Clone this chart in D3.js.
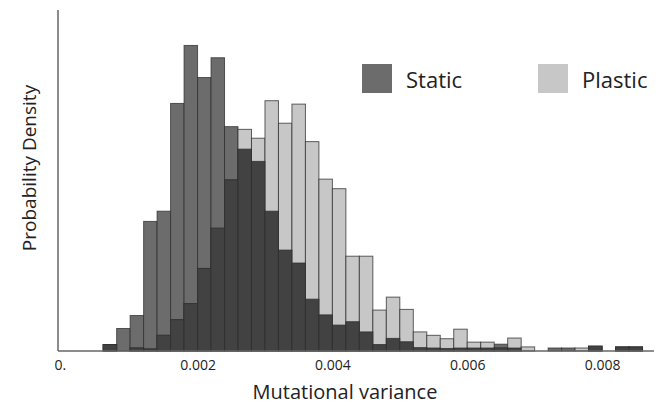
<!DOCTYPE html>
<html>
<head>
<meta charset="utf-8">
<script src="https://cdn.jsdelivr.net/npm/d3@7"></script>
<style>
  body { margin: 0; background: #fff; }
  text { font-family: "Open Sans", sans-serif; fill: #222; }
</style>
</head>
<body>
<svg class="hist" width="664" height="406"></svg>
<script>
// bin left edges (width 0.0002)
var binStarts = [0.0006, 0.0008, 0.0010, 0.0012, 0.0014, 0.0016, 0.0018, 0.0020, 0.0022, 0.0024,
                 0.0026, 0.0028, 0.0030, 0.0032, 0.0034, 0.0036, 0.0038, 0.0040, 0.0042, 0.0044,
                 0.0046, 0.0048, 0.0050, 0.0052, 0.0054, 0.0056, 0.0058, 0.0060, 0.0062, 0.0064,
                 0.0066, 0.0068, 0.0070, 0.0072, 0.0074, 0.0076, 0.0078, 0.0080, 0.0082, 0.0084];
var staticVals = [9.5, 33, 52, 190, 205, 363, 448, 401, 430, 329,
                  296, 278, 205, 148, 129, 76, 53, 38, 43, 28,
                  9.5, 18.5, 13.6, 5, 4.4, 3.7, 4.4, 4.4, 4.4, 10,
                  4.4, 0, 0, 4.4, 4.4, 0, 7, 0, 5.9, 5.9];
var plasticVals = [9.5, 0, 4.5, 3, 23, 46, 69.5, 121, 180, 251,
                   325, 312, 367, 334, 362, 307, 252, 238, 139, 139,
                   60, 79, 61, 28, 23, 18, 32, 13, 13, 4.4,
                   19, 6, 0, 0, 0, 4.4, 7, 0, 5.9, 5.9];
var binWidth = 0.0002;
var xTicks = [0, 0.002, 0.004, 0.006, 0.008];
var seriesNames = ["Static", "Plastic"];

var colStatic = "#6c6c6c", colPlastic = "#c7c7c7", colBoth = "#424242";

var svg = d3.select('.hist');
var x = d3.scaleLinear().domain([-0.00007, 0.0088]).range([58, 656]);
var y = d3.scaleLinear().domain([0, 500]).range([351, 10]);

var bins = binStarts.map(function(b, i){
  return {x0: b, x1: b + binWidth, s: staticVals[i], p: plasticVals[i]};
});

function drawBars(cls, val, color){
  svg.append('g').attr('class', cls)
    .selectAll('rect')
    .data(bins.filter(function(d){ return val(d) > 0; }))
    .enter().append('rect')
    .attr('x', function(d){ return x(d.x0); })
    .attr('width', function(d){ return x(d.x1) - x(d.x0); })
    .attr('y', function(d){ return y(val(d)); })
    .attr('height', function(d){ return y(0) - y(val(d)); })
    .attr('fill', color)
    .attr('stroke', '#2e2e2e')
    .attr('stroke-opacity', 0.75)
    .attr('stroke-width', 1);
}
drawBars('static', function(d){ return d.s; }, colStatic);
drawBars('plastic', function(d){ return d.p; }, colPlastic);
drawBars('overlap', function(d){ return Math.min(d.s, d.p); }, colBoth);

// axes
svg.append('line')
  .attr('x1', 58).attr('x2', 58).attr('y1', 10).attr('y2', y(0))
  .attr('stroke', '#666').attr('stroke-width', 1.5);

var xAxis = d3.axisBottom(x)
  .tickValues(xTicks)
  .tickSize(0)
  .tickPadding(9)
  .tickFormat(function(d){ return d === 0 ? "0." : d3.format(".3f")(d); });
var gx = svg.append('g').attr('transform', 'translate(0,' + y(0) + ')').call(xAxis);
gx.select('.domain').attr('stroke', '#666').attr('stroke-width', 1.5)
  .attr('d', 'M58,0H654');
gx.selectAll('.tick text')
  .style('font-family', '"Open Sans", sans-serif')
  .style('font-size', '14px')
  .attr('fill', '#333')
  .attr('dx', function(d){ return d === 0 ? -3 : 0; });

svg.append('text')
  .attr('x', 345).attr('y', 399)
  .attr('text-anchor', 'middle')
  .style('font-size', '20px')
  .text('Mutational variance');

svg.append('text')
  .attr('transform', 'translate(36,168) rotate(-90)')
  .attr('text-anchor', 'middle')
  .style('font-size', '19px')
  .text('Probability Density');

// legend
var legend = svg.append('g').selectAll('g')
  .data(seriesNames)
  .enter().append('g')
  .attr('transform', function(d, i){ return 'translate(' + (362 + i*176) + ',64)'; });
legend.append('rect')
  .attr('width', 30).attr('height', 29)
  .attr('fill', function(d, i){ return i === 0 ? colStatic : colPlastic; });
legend.append('text')
  .attr('x', 44).attr('y', 24)
  .style('font-size', '22px')
  .text(function(d){ return d; });
</script>
</body>
</html>
